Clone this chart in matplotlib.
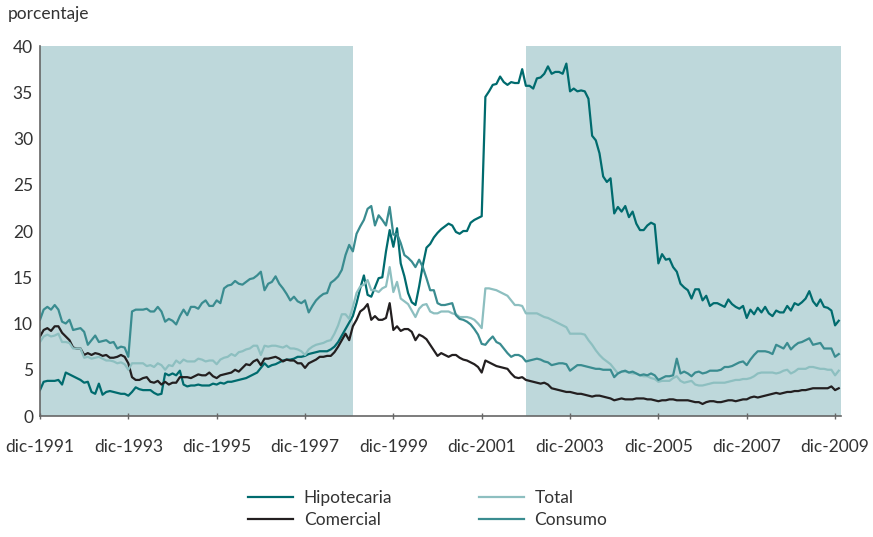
import numpy as np
import matplotlib
matplotlib.use("Agg")
import matplotlib.pyplot as plt

# Tasas de morosidad mensuales, dic-1991 a ene-2010 (porcentaje)

hipotecaria = [
    2.8, 3.7, 3.8, 3.8, 3.8, 3.9, 3.4, 4.7, 4.5, 4.3, 4.1, 3.9,
    3.6, 3.7, 2.6, 2.4, 3.5, 2.3, 2.6, 2.7, 2.6, 2.5, 2.4, 2.4,
    2.2, 2.6, 3.1, 2.9, 2.8, 2.8, 2.8, 2.5, 2.3, 2.4, 4.6, 4.4,
    4.6, 4.4, 4.9, 3.4, 3.2, 3.3, 3.3, 3.4, 3.3, 3.3, 3.3, 3.5,
    3.4, 3.6, 3.5, 3.7, 3.7, 3.8, 3.9, 4.0, 4.1, 4.3, 4.5, 4.7,
    5.2, 5.7, 5.3, 5.5, 5.6, 5.8, 6.0, 6.1, 6.1, 6.2, 6.4, 6.4,
    6.5, 6.7, 6.8, 6.9, 7.0, 7.0, 7.0, 7.2, 7.5, 8.0, 8.7, 9.4,
    10.1, 10.8, 12.2, 13.8, 15.2, 13.1, 12.9, 13.9, 14.9, 15.0, 17.8, 20.1,
    18.3, 20.3, 16.5, 15.1, 13.3, 12.3, 12.0, 14.0, 16.3, 18.2, 18.6, 19.3,
    19.8, 20.2, 20.5, 20.8, 20.6, 19.9, 19.7, 20.0, 20.0, 20.9, 21.2, 21.4,
    21.6, 34.5, 35.1, 35.8, 35.9, 36.7, 36.1, 35.8, 36.1, 36.0, 36.0, 37.5,
    35.7, 35.7, 35.4, 36.5, 36.6, 37.0, 37.8, 37.0, 37.2, 37.2, 37.0, 38.1,
    35.1, 35.4, 35.1, 35.2, 35.1, 34.3, 30.3, 29.8, 28.4, 25.9, 25.3, 25.7,
    21.9, 22.6, 22.1, 22.7, 21.5, 22.1, 20.8, 20.1, 20.1, 20.6, 20.9, 20.7,
    16.5, 17.5, 16.9, 17.0, 16.1, 15.6, 14.3, 13.9, 13.6, 12.7, 13.7, 13.7,
    12.5, 13.0, 11.9, 12.2, 12.2, 12.0, 11.8, 12.6, 12.1, 11.8, 11.6, 11.9,
    10.6, 11.5, 11.0, 11.7, 11.2, 11.8, 11.1, 10.8, 11.4, 11.2, 11.2, 11.9,
    11.4, 12.2, 12.0, 12.3, 12.7, 13.5, 12.4, 11.9, 12.6, 11.8, 11.7, 11.4,
    9.8, 10.3,
]

comercial = [
    8.6, 9.3, 9.5, 9.2, 9.7, 9.7, 9.0, 8.6, 8.2, 7.4, 7.3, 7.3,
    6.6, 6.8, 6.6, 6.8, 6.7, 6.5, 6.6, 6.3, 6.3, 6.4, 6.6, 6.4,
    5.7, 4.2, 3.9, 3.9, 4.1, 4.2, 3.7, 3.6, 3.8, 3.4, 3.7, 3.4,
    3.6, 3.6, 4.2, 4.2, 4.2, 4.1, 4.3, 4.5, 4.4, 4.4, 4.7, 4.3,
    4.1, 4.4, 4.5, 4.6, 4.7, 5.0, 4.8, 5.2, 5.6, 5.5, 5.9, 6.1,
    5.5, 6.2, 6.2, 6.3, 6.4, 6.2, 5.9, 6.1, 6.0, 6.0, 5.7, 5.7,
    5.2, 5.7, 5.9, 6.1, 6.4, 6.4, 6.5, 6.5, 6.9, 7.5, 8.2, 8.9,
    8.2, 9.7, 10.4, 11.3, 11.6, 12.1, 10.4, 10.8, 10.4, 10.4, 10.6, 12.2,
    9.3, 9.7, 9.2, 9.4, 9.4, 9.1, 8.2, 8.8, 8.6, 8.3, 7.7, 7.1,
    6.5, 6.8, 6.6, 6.4, 6.6, 6.6, 6.3, 6.1, 6.0, 5.8, 5.6, 5.3,
    4.7, 6.0, 5.8, 5.6, 5.4, 5.3, 5.2, 5.1, 4.6, 4.2, 4.1, 4.2,
    3.9, 3.8, 3.7, 3.6, 3.5, 3.6, 3.4, 3.0, 2.9, 2.8, 2.7, 2.6,
    2.6, 2.5, 2.4, 2.4, 2.3, 2.2, 2.1, 2.2, 2.2, 2.1, 2.0, 1.9,
    1.7, 1.8, 1.9, 1.8, 1.8, 1.8, 1.9, 1.9, 1.9, 1.8, 1.8, 1.7,
    1.6, 1.7, 1.7, 1.8, 1.8, 1.7, 1.7, 1.7, 1.7, 1.6, 1.5, 1.5,
    1.3, 1.5, 1.6, 1.6, 1.5, 1.5, 1.6, 1.7, 1.7, 1.6, 1.7, 1.8,
    1.8, 2.0, 2.1, 2.0, 2.1, 2.2, 2.3, 2.4, 2.5, 2.4, 2.5, 2.6,
    2.6, 2.7, 2.7, 2.8, 2.8, 2.9, 3.0, 3.0, 3.0, 3.0, 3.0, 3.2,
    2.8, 3.0,
]

total = [
    8.0, 8.6, 8.8, 8.6, 8.7, 8.9, 8.0, 8.0, 7.9, 7.3, 7.3, 7.3,
    6.3, 6.4, 6.2, 6.3, 6.4, 6.2, 6.0, 6.0, 5.9, 5.7, 5.8, 5.6,
    5.0, 5.7, 5.7, 5.7, 5.7, 5.4, 5.5, 5.3, 5.7, 5.5, 5.0, 5.5,
    5.4, 6.0, 5.7, 6.1, 5.9, 5.9, 5.9, 6.2, 6.1, 5.9, 6.0, 6.0,
    5.6, 6.1, 6.3, 6.4, 6.7, 6.5, 6.9, 7.0, 7.2, 7.3, 7.6, 7.6,
    6.6, 7.6, 7.5, 7.6, 7.6, 7.5, 7.4, 7.6, 7.3, 7.3, 7.2, 7.0,
    6.6, 7.2, 7.5, 7.7, 7.8, 7.9, 8.1, 8.2, 8.9, 9.8, 11.0, 11.0,
    10.5, 11.8, 13.3, 14.0, 14.2, 14.7, 13.6, 13.6, 13.4, 13.8, 14.0, 16.1,
    13.4, 14.5, 12.7, 12.4, 12.1, 11.4, 10.7, 11.6, 12.0, 12.1, 11.3, 11.1,
    11.1, 11.3, 11.3, 11.3, 11.1, 11.0, 10.7, 10.7, 10.7, 10.6, 10.4, 10.0,
    9.5, 13.8, 13.8, 13.7, 13.6, 13.4, 13.2, 13.0, 12.5, 12.0, 12.0, 11.9,
    11.1, 11.1, 11.1, 11.1, 10.9, 10.7, 10.6, 10.4, 10.2, 10.0, 9.8, 9.6,
    8.9, 8.9, 8.9, 8.9, 8.8, 8.2, 7.7, 7.1, 6.6, 6.2, 5.9, 5.6,
    5.1, 4.6, 4.8, 4.8, 4.7, 4.6, 4.6, 4.4, 4.3, 4.3, 4.1, 4.0,
    3.7, 3.8, 3.8, 3.8, 4.1, 4.3, 3.8, 3.6, 3.7, 3.8, 3.4, 3.3,
    3.3, 3.4, 3.5, 3.6, 3.6, 3.6, 3.6, 3.7, 3.8, 3.9, 3.9, 4.0,
    4.0, 4.1, 4.3, 4.6, 4.7, 4.7, 4.7, 4.7, 4.6, 4.7, 4.9, 5.0,
    4.6, 4.8, 5.1, 5.1, 5.1, 5.3, 5.3, 5.2, 5.1, 5.1, 5.0, 5.0,
    4.4, 4.9,
]

consumo = [
    10.4, 11.5, 11.8, 11.5, 12.0, 11.5, 10.2, 10.0, 10.4, 9.3, 9.4, 9.5,
    9.1, 7.7, 8.2, 8.7, 8.0, 8.1, 8.2, 7.9, 8.0, 7.3, 7.5, 7.4,
    6.4, 11.3, 11.5, 11.5, 11.5, 11.6, 11.3, 11.3, 11.8, 11.3, 10.2, 10.5,
    10.3, 9.9, 10.8, 11.5, 10.9, 11.8, 11.8, 11.6, 12.2, 12.5, 11.9, 11.9,
    12.5, 12.2, 13.8, 14.1, 14.2, 14.6, 14.3, 14.2, 14.5, 14.8, 14.9, 15.2,
    15.6, 13.6, 14.3, 14.5, 15.1, 14.3, 13.8, 13.2, 12.5, 12.9, 12.4, 12.2,
    12.5, 11.2, 11.9, 12.5, 12.9, 13.2, 13.3, 14.4, 14.7, 15.1, 15.8, 17.4,
    18.5, 17.8, 19.7, 20.5, 21.2, 22.4, 22.7, 20.6, 21.7, 21.2, 20.6, 22.6,
    19.6, 19.7, 18.7, 17.4, 17.1, 16.7, 16.1, 16.9, 16.1, 14.9, 13.6, 13.6,
    12.2, 12.0, 12.0, 12.1, 12.2, 10.9, 10.5, 10.4, 10.2, 9.9, 9.4, 8.8,
    7.8, 7.7, 8.2, 8.6, 8.0, 7.8, 7.3, 6.8, 6.4, 6.6, 6.6, 6.4,
    5.9, 6.0, 6.1, 6.2, 6.1, 5.9, 5.8, 5.5, 5.6, 5.7, 5.7, 5.6,
    4.9, 5.2, 5.5, 5.5, 5.4, 5.3, 5.2, 5.1, 5.1, 5.0, 5.0, 5.0,
    4.2, 4.6, 4.8, 4.9, 4.7, 4.8, 4.6, 4.4, 4.5, 4.4, 4.6, 4.4,
    3.9, 4.1, 4.3, 4.3, 4.4, 6.2, 4.6, 4.8, 4.6, 4.3, 4.7, 4.8,
    4.6, 4.7, 4.9, 4.9, 4.9, 5.0, 5.3, 5.3, 5.4, 5.6, 5.8, 5.9,
    5.5, 6.1, 6.6, 7.0, 7.0, 7.0, 6.9, 6.7, 7.7, 7.5, 7.3, 7.9,
    7.2, 7.6, 7.9, 8.0, 8.2, 8.4, 7.7, 7.8, 7.9, 7.3, 7.3, 7.3,
    6.4, 6.7,
]

tick_years = [1991, 1993, 1995, 1997, 1999, 2001, 2003, 2005, 2007, 2009]
tick_labels = ["dic-%d" % y for y in tick_years]

# periodos sombreados, en meses desde dic-1991
shade_periods = [(0, 85), (132, 217.6)]

###############################################################################

plt.rcParams['font.family'] = ['Lato', 'DejaVu Sans']

txtcolor = '#333333'
c_hip = '#006b6e'
c_com = '#231f20'
c_tot = '#8dbfc0'
c_con = '#3a8c90'

months = np.arange(len(hipotecaria))

fig = plt.figure(figsize=(8.73, 5.37), dpi=100)
ax = fig.add_axes([0.0458, 0.2253, 0.9175, 0.689])

for a, b in shade_periods:
    ax.axvspan(a, b, color='#bed8db', lw=0, zorder=0)

lw = 1.6
ax.plot(months, hipotecaria, color=c_hip, lw=lw, label='Hipotecaria')
ax.plot(months, comercial, color=c_com, lw=lw, label='Comercial')
ax.plot(months, total, color=c_tot, lw=lw, label='Total')
ax.plot(months, consumo, color=c_con, lw=lw, label='Consumo')

ax.set_xlim(0, 217.6)
ax.set_ylim(0, 40)
ax.set_yticks(range(0, 41, 5))
ax.set_xticks([(y - 1991) * 12 for y in tick_years])
ax.set_xticklabels(tick_labels)

for s in ['top', 'right']:
    ax.spines[s].set_visible(False)
for s in ['left', 'bottom']:
    ax.spines[s].set_color('#666666')
    ax.spines[s].set_linewidth(1.2)

ax.tick_params(axis='x', direction='inout', length=5, width=1, color='#666666',
               labelsize=12.5, labelcolor=txtcolor, pad=14)
ax.tick_params(axis='y', length=0, labelsize=12.5, labelcolor=txtcolor, pad=5)

fig.text(0.009, 0.973, 'porcentaje', fontsize=12.5, color=txtcolor, va='center')

fig.legend(loc='center', bbox_to_anchor=(0.49, 0.052), ncol=2, frameon=False,
           fontsize=12.5, handlelength=2.6, columnspacing=5.0, labelspacing=0.35,
           handletextpad=0.6, labelcolor=txtcolor)

fig.savefig('out.png', dpi=100)
